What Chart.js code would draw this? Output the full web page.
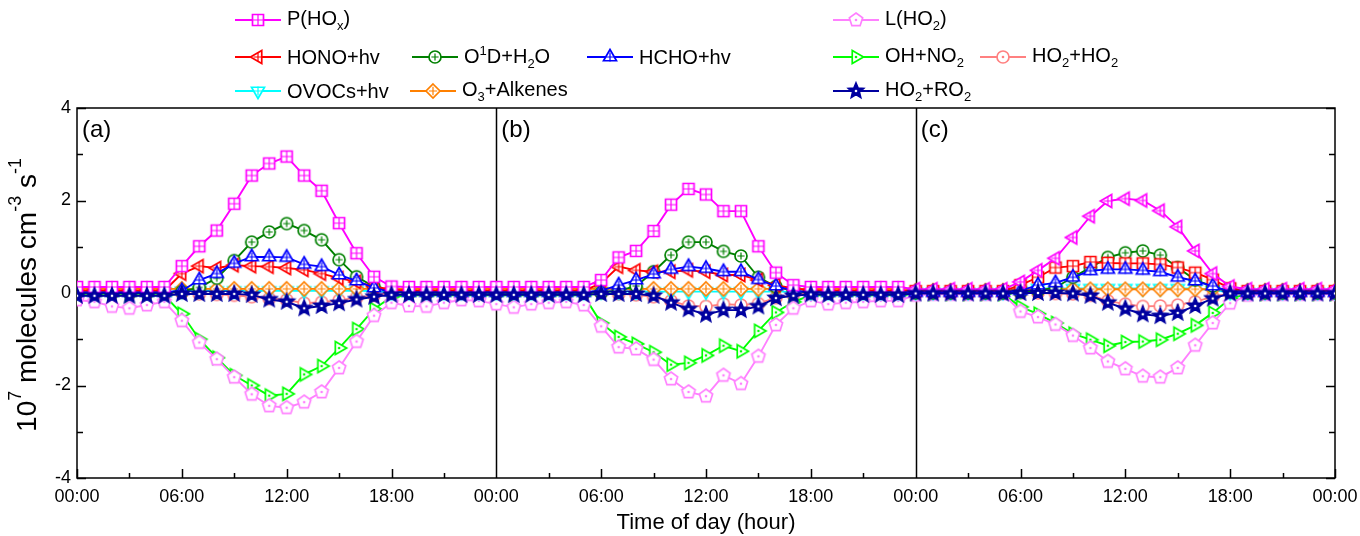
<!DOCTYPE html>
<html>
<head>
<meta charset="utf-8">
<title>HOx budget</title>
<script src="https://cdn.jsdelivr.net/npm/chart.js@4.4.1/dist/chart.umd.min.js"></script>
<style>
  html, body { margin: 0; padding: 0; background: #fff; }
  #wrap { position: relative; width: 1360px; height: 536px; overflow: hidden; }
  #chart { position: absolute; left: 0; top: 0; }
  .lg { position: absolute; display: flex; align-items: center; font: 20px Arial, "Liberation Sans", sans-serif; color: #000; line-height: 1; white-space: nowrap; }
  .lg canvas { margin-right: 6px; }
  .lg sub { font-size: 13px; vertical-align: -5px; }
  .lg sup { font-size: 13px; vertical-align: 8px; }
</style>
</head>
<body>
<div id="wrap">
  <canvas id="chart" width="1360" height="536"></canvas>
  <div id="legend"></div>
</div>
<script>
// hours across the three panels (a: 0-24, b: 24-48, c: 48-72)
const hours = [
  0,1,2,3,4,5,6,7,8,9,10,11,12,13,14,15,16,17,18,19,20,21,22,23,
  24,25,26,27,28,29,30,31,32,33,34,35,36,37,38,39,40,41,42,43,44,45,46,47,
  48,49,50,51,52,53,54,55,56,57,58,59,60,61,62,63,64,65,66,67,68,69,70,71,72
];
const tickLabels = ['00:00', '06:00', '12:00', '18:00'];
const panelNames = ['(a)', '(b)', '(c)'];
const panelStarts = [0, 24, 48];

// production terms (10^7 molecules cm-3 s-1)
const pHOx = [
  0.13,0.13,0.13,0.13,0.13,0.13,0.58,1.01,1.35,1.93,2.54,2.80,2.95,2.54,2.21,1.51,0.86,0.35,0.14,0.13,0.13,0.13,0.13,0.13,
  0.13,0.13,0.13,0.13,0.13,0.13,0.28,0.77,0.91,1.34,1.91,2.25,2.13,1.77,1.77,1.01,0.44,0.17,0.13,0.13,0.13,0.13,0.13,0.13,
  0.08,0.08,0.08,0.08,0.08,0.08,0.24,0.49,0.75,1.20,1.66,1.99,2.04,2.00,1.78,1.43,0.91,0.42,0.14,0.08,0.08,0.08,0.08,0.08,0.08
];
const honoHv = [
  0.05,0.05,0.05,0.05,0.05,0.05,0.42,0.58,0.54,0.60,0.58,0.57,0.54,0.50,0.42,0.32,0.24,0.14,0.07,0.05,0.05,0.05,0.05,0.05,
  0.05,0.05,0.05,0.05,0.05,0.05,0.21,0.57,0.49,0.46,0.46,0.49,0.46,0.39,0.39,0.28,0.17,0.10,0.06,0.05,0.05,0.05,0.05,0.05,
  0.04,0.04,0.04,0.04,0.04,0.04,0.17,0.34,0.55,0.58,0.67,0.65,0.64,0.64,0.62,0.55,0.44,0.29,0.10,0.04,0.04,0.04,0.04,0.04,0.04
];
const o1dH2O = [
  0.00,0.00,0.00,0.00,0.00,0.00,0.03,0.12,0.32,0.70,1.10,1.32,1.50,1.35,1.15,0.72,0.35,0.14,0.02,0.00,0.00,0.00,0.00,0.00,
  0.00,0.00,0.00,0.00,0.00,0.00,0.01,0.05,0.15,0.46,0.82,1.10,1.10,0.90,0.80,0.34,0.14,0.05,0.01,0.00,0.00,0.00,0.00,0.00,
  0.00,0.00,0.00,0.00,0.00,0.00,0.02,0.05,0.12,0.34,0.55,0.77,0.87,0.91,0.82,0.55,0.28,0.15,0.02,0.00,0.00,0.00,0.00,0.00,0.00
];
const hchoHv = [
  0.01,0.01,0.01,0.01,0.01,0.01,0.05,0.28,0.42,0.64,0.78,0.78,0.77,0.62,0.57,0.39,0.26,0.11,0.02,0.01,0.01,0.01,0.01,0.01,
  0.01,0.01,0.01,0.01,0.01,0.01,0.05,0.17,0.28,0.41,0.51,0.57,0.53,0.46,0.46,0.29,0.15,0.05,0.01,0.01,0.01,0.01,0.01,0.01,
  0.01,0.01,0.01,0.01,0.01,0.01,0.05,0.17,0.22,0.34,0.48,0.51,0.51,0.49,0.46,0.34,0.26,0.15,0.03,0.01,0.01,0.01,0.01,0.01,0.01
];
const ovocsHv = [
  0.02,0.02,0.02,0.02,0.02,0.02,0.04,0.05,0.05,0.05,0.05,0.05,0.05,0.05,0.05,0.05,0.05,0.04,0.02,0.02,0.02,0.02,0.02,0.02,
  0.02,0.02,0.02,0.02,0.02,0.02,0.03,0.03,0.03,0.03,0.03,0.03,0.03,0.03,0.03,0.03,0.03,0.03,0.02,0.02,0.02,0.02,0.02,0.02,
  0.02,0.02,0.02,0.02,0.02,0.02,0.05,0.10,0.10,0.10,0.10,0.10,0.10,0.10,0.10,0.10,0.10,0.06,0.02,0.02,0.02,0.02,0.02,0.02,0.02
];
const o3Alkenes = [
  0.09,0.09,0.09,0.09,0.09,0.09,0.09,0.09,0.09,0.09,0.09,0.09,0.09,0.09,0.09,0.09,0.09,0.09,0.09,0.09,0.09,0.09,0.09,0.09,
  0.09,0.09,0.09,0.09,0.09,0.09,0.09,0.09,0.09,0.09,0.09,0.09,0.09,0.09,0.09,0.09,0.09,0.09,0.09,0.09,0.09,0.09,0.09,0.09,
  0.05,0.05,0.05,0.05,0.05,0.05,0.08,0.08,0.08,0.08,0.08,0.08,0.08,0.08,0.08,0.08,0.08,0.08,0.08,0.05,0.05,0.05,0.05,0.05,0.05
];

// loss terms
const lHO2 = [
  -0.15,-0.19,-0.29,-0.33,-0.26,-0.19,-0.60,-1.07,-1.43,-1.82,-2.19,-2.44,-2.48,-2.36,-2.14,-1.62,-1.05,-0.49,-0.21,-0.28,-0.29,-0.21,-0.15,-0.17,
  -0.24,-0.31,-0.24,-0.21,-0.19,-0.26,-0.72,-1.17,-1.21,-1.44,-1.86,-2.14,-2.23,-1.78,-1.96,-1.37,-0.69,-0.33,-0.17,-0.24,-0.21,-0.19,-0.17,-0.17,
  -0.05,-0.03,-0.03,-0.03,-0.03,-0.02,-0.40,-0.52,-0.68,-0.92,-1.19,-1.48,-1.64,-1.80,-1.82,-1.62,-1.13,-0.65,-0.22,-0.05,-0.03,-0.03,-0.03,-0.03,-0.03
];
const ohNO2 = [
  -0.05,-0.05,-0.05,-0.05,-0.05,-0.05,-0.45,-1.00,-1.40,-1.78,-2.00,-2.22,-2.18,-1.76,-1.58,-1.19,-0.78,-0.35,-0.08,-0.05,-0.05,-0.05,-0.05,-0.05,
  -0.05,-0.05,-0.05,-0.05,-0.05,-0.05,-0.65,-0.95,-1.10,-1.28,-1.55,-1.51,-1.35,-1.14,-1.26,-0.82,-0.42,-0.19,-0.05,-0.05,-0.05,-0.05,-0.05,-0.05,
  -0.02,-0.02,-0.02,-0.02,-0.02,-0.02,-0.30,-0.45,-0.65,-0.88,-1.01,-1.14,-1.06,-1.05,-1.01,-0.88,-0.70,-0.43,-0.12,-0.02,-0.02,-0.02,-0.02,-0.02,-0.02
];
const ho2HO2 = [
  0.02,0.02,0.02,0.02,0.02,0.02,0.00,-0.02,-0.03,-0.05,-0.08,-0.12,-0.15,-0.22,-0.20,-0.16,-0.10,-0.05,0.00,0.02,0.02,0.02,0.02,0.02,
  0.02,0.02,0.02,0.02,0.02,0.02,0.00,-0.02,-0.04,-0.08,-0.17,-0.28,-0.29,-0.24,-0.26,-0.23,-0.10,-0.04,0.00,0.02,0.02,0.02,0.02,0.02,
  0.00,0.00,0.00,0.00,0.00,0.00,0.00,0.00,-0.01,-0.02,-0.05,-0.17,-0.24,-0.29,-0.28,-0.26,-0.19,-0.08,-0.01,0.00,0.00,0.00,0.00,0.00,0.00
];
const ho2RO2 = [
  -0.06,-0.06,-0.06,-0.06,-0.06,-0.06,-0.02,-0.02,-0.02,-0.02,-0.04,-0.14,-0.19,-0.33,-0.28,-0.22,-0.14,-0.08,-0.04,-0.04,-0.04,-0.04,-0.04,-0.04,
  -0.04,-0.04,-0.04,-0.04,-0.04,-0.04,-0.02,-0.02,-0.02,-0.06,-0.21,-0.35,-0.47,-0.37,-0.37,-0.29,-0.11,-0.06,-0.03,-0.04,-0.04,-0.04,-0.04,-0.04,
  -0.01,-0.01,-0.01,-0.01,-0.01,-0.01,0.00,0.00,0.00,-0.01,-0.06,-0.21,-0.34,-0.46,-0.50,-0.43,-0.28,-0.12,-0.01,-0.01,-0.01,-0.01,-0.01,-0.01,-0.01
];

// draw a marker into a small canvas (used as pointStyle and in the legend)
function shapePath(ctx, shape, c, r) {
    ctx.beginPath();
    if (shape === 'square') {
        ctx.rect(c - r, c - r, 2 * r, 2 * r);
    } else if (shape === 'circle') {
        ctx.arc(c, c, r, 0, Math.PI * 2);
    } else if (shape === 'diamond') {
        ctx.moveTo(c, c - r); ctx.lineTo(c + r, c); ctx.lineTo(c, c + r); ctx.lineTo(c - r, c); ctx.closePath();
    } else if (shape === 'star') {
        for (let i = 0; i < 10; i++) {
            const rr = i % 2 === 0 ? r : r * 0.45;
            const a = -Math.PI / 2 + i * Math.PI / 5;
            ctx.lineTo(c + rr * Math.cos(a), c + rr * Math.sin(a));
        }
        ctx.closePath();
    } else {
        // regular polygons, rotated by the given start angle
        const spec = {
            triUp: [3, -Math.PI / 2], triDown: [3, Math.PI / 2],
            triLeft: [3, Math.PI], triRight: [3, 0], pentagon: [5, -Math.PI / 2]
        }[shape];
        for (let i = 0; i < spec[0]; i++) {
            const a = spec[1] + i * 2 * Math.PI / spec[0];
            ctx.lineTo(c + r * Math.cos(a), c + r * Math.sin(a));
        }
        ctx.closePath();
    }
}

function makeMarker(shape, color, inner, r) {
    const size = 20;
    const cv = document.createElement('canvas');
    cv.width = size; cv.height = size;
    const ctx = cv.getContext('2d');
    const c = size / 2;
    ctx.lineWidth = 1.7;
    ctx.strokeStyle = color;
    shapePath(ctx, shape, c, r);
    ctx.fillStyle = shape === 'star' ? color : '#fff';
    ctx.fill();
    ctx.stroke();
    if (inner === 'plus') {
        const k = shape === 'square' ? r : r * 0.6;
        ctx.lineWidth = 1.2;
        ctx.beginPath();
        ctx.moveTo(c - k, c); ctx.lineTo(c + k, c);
        ctx.moveTo(c, c - k); ctx.lineTo(c, c + k);
        ctx.stroke();
    } else if (inner === 'dot') {
        ctx.fillStyle = shape === 'star' ? '#fff' : color;
        ctx.beginPath();
        ctx.arc(c, c, 1.3, 0, Math.PI * 2);
        ctx.fill();
    }
    return cv;
}

const mk = {
    pHOx: makeMarker('square', '#FF00FF', 'plus', 5.5),
    pHOxC: makeMarker('triLeft', '#FF00FF', 'plus', 7.5),
    hono: makeMarker('triLeft', '#FF0000', 'plus', 7.5),
    honoC: makeMarker('square', '#FF0000', 'plus', 5.5),
    o1d: makeMarker('circle', '#008000', 'plus', 6),
    hcho: makeMarker('triUp', '#0000FF', 'plus', 7.5),
    ovocs: makeMarker('triDown', '#00FFFF', 'plus', 7.5),
    o3: makeMarker('diamond', '#FF8000', 'plus', 7),
    lho2: makeMarker('pentagon', '#FF80FF', 'dot', 7),
    ohno2: makeMarker('triRight', '#00FF00', 'dot', 7.5),
    ho2ho2: makeMarker('circle', '#FF8080', 'dot', 6),
    ho2ro2: makeMarker('star', '#0000A0', 'dot', 8)
};

const toXY = arr => arr.map((v, i) => ({ x: hours[i], y: v }));
const panelStyle = (normal, panelC) => ctx => (ctx.dataIndex >= 48 ? panelC : normal);

function series(label, values, color, marker, order) {
    return {
        label: label,
        data: toXY(values),
        borderColor: color,
        backgroundColor: color,
        borderWidth: 1.9,
        pointStyle: marker,
        pointRadius: 6,
        tension: 0,
        order: order
    };
}

const datasets = [
    series('P(HOx)', pHOx, '#FF00FF', panelStyle(mk.pHOx, mk.pHOxC), 1),
    series('HONO+hv', honoHv, '#FF0000', panelStyle(mk.hono, mk.honoC), 3),
    series('O1D+H2O', o1dH2O, '#008000', mk.o1d, 4),
    series('HCHO+hv', hchoHv, '#0000FF', mk.hcho, 2),
    series('OVOCs+hv', ovocsHv, '#00FFFF', mk.ovocs, 6),
    series('O3+Alkenes', o3Alkenes, '#FF8000', mk.o3, 5),
    series('L(HO2)', lHO2, '#FF80FF', mk.lho2, 7),
    series('OH+NO2', ohNO2, '#00FF00', mk.ohno2, 8),
    series('HO2+HO2', ho2HO2, '#FF8080', mk.ho2ho2, 9),
    series('HO2+RO2', ho2RO2, '#0000A0', mk.ho2ro2, 0)
];

// frame, inward ticks, panel dividers, panel labels and y title
const framePlugin = {
    id: 'frame',
    beforeDatasetsDraw(chart) {
        const { ctx, chartArea: a, scales: { x, y } } = chart;
        ctx.save();
        ctx.strokeStyle = '#000';
        ctx.lineWidth = 1.5;
        ctx.strokeRect(a.left, a.top, a.right - a.left, a.bottom - a.top);
        ctx.beginPath();
        [24, 48].forEach(h => {
            const px = Math.round(x.getPixelForValue(h)) + 0.5;
            ctx.moveTo(px, a.top); ctx.lineTo(px, a.bottom);
        });
        x.ticks.forEach(t => {
            const px = Math.round(x.getPixelForValue(t.value)) + 0.5;
            const len = t.value % 6 === 0 ? 9 : 5;
            ctx.moveTo(px, a.bottom); ctx.lineTo(px, a.bottom - len);
        });
        y.ticks.forEach(t => {
            const py = Math.round(y.getPixelForValue(t.value)) + 0.5;
            const len = t.value % 2 === 0 ? 9 : 6;
            ctx.moveTo(a.left, py); ctx.lineTo(a.left + len, py);
            ctx.moveTo(a.right, py); ctx.lineTo(a.right - len, py);
        });
        ctx.stroke();

        ctx.fillStyle = '#000';
        ctx.font = '24px Arial, "Liberation Sans", sans-serif';
        ctx.textBaseline = 'top';
        ctx.textAlign = 'left';
        panelNames.forEach((name, i) => {
            ctx.fillText(name, x.getPixelForValue(panelStarts[i]) + 5, a.top + 10);
        });
        ctx.restore();
    },
    afterDraw(chart) {
        const { ctx } = chart;
        const big = '28px Arial, "Liberation Sans", sans-serif';
        const small = '18px Arial, "Liberation Sans", sans-serif';
        const parts = [
            ['10', big, 0], ['7', small, -12], [' molecules cm', big, 0],
            ['-3', small, -12], [' s', big, 0], ['-1', small, -12]
        ];
        ctx.save();
        let total = 0;
        parts.forEach(p => { ctx.font = p[1]; total += ctx.measureText(p[0]).width; });
        ctx.translate(28, 295);
        ctx.rotate(-Math.PI / 2);
        ctx.fillStyle = '#000';
        ctx.textBaseline = 'middle';
        let pos = -total / 2;
        parts.forEach(p => {
            ctx.font = p[1];
            ctx.fillText(p[0], pos, p[2]);
            pos += ctx.measureText(p[0]).width;
        });
        ctx.restore();
    }
};

new Chart(document.getElementById('chart').getContext('2d'), {
    type: 'line',
    data: { datasets: datasets },
    options: {
        responsive: false,
        animation: false,
        devicePixelRatio: 1,
        layout: { padding: { top: 108, right: 25, left: 0, bottom: 0 } },
        plugins: { legend: { display: false }, tooltip: { enabled: false } },
        scales: {
            x: {
                type: 'linear', min: 0, max: 72,
                afterFit: s => { s.height = 58; s.paddingLeft = 0; s.paddingRight = 0; },
                grid: { display: false, drawTicks: false },
                border: { display: false },
                ticks: {
                    stepSize: 3, autoSkip: false, maxRotation: 0, padding: 8,
                    color: '#000',
                    font: { family: 'Arial, "Liberation Sans", sans-serif', size: 18 },
                    callback: v => (v % 6 === 0 ? tickLabels[(v % 24) / 6] : '')
                },
                title: {
                    display: true, text: 'Time of day (hour)', color: '#000',
                    font: { family: 'Arial, "Liberation Sans", sans-serif', size: 22 },
                    padding: { top: 0, bottom: 0 }
                }
            },
            y: {
                min: -4, max: 4,
                afterFit: s => { s.width = 77; },
                grid: { display: false, drawTicks: false },
                border: { display: false },
                ticks: {
                    stepSize: 1, padding: 6, color: '#000',
                    font: { family: 'Arial, "Liberation Sans", sans-serif', size: 18 },
                    callback: v => (v % 2 === 0 ? String(v) : '')
                }
            }
        }
    },
    plugins: [framePlugin]
});

// legend with sub/superscripts
const legendItems = [
    { html: 'P(HO<sub>x</sub>)', m: mk.pHOx, c: '#FF00FF', x: 235, y: 20 },
    { html: 'HONO+hv', m: mk.hono, c: '#FF0000', x: 235, y: 57 },
    { html: 'O<sup>1</sup>D+H<sub>2</sub>O', m: mk.o1d, c: '#008000', x: 412, y: 57 },
    { html: 'HCHO+hv', m: mk.hcho, c: '#0000FF', x: 587, y: 57 },
    { html: 'OVOCs+hv', m: mk.ovocs, c: '#00FFFF', x: 235, y: 91 },
    { html: 'O<sub>3</sub>+Alkenes', m: mk.o3, c: '#FF8000', x: 410, y: 91 },
    { html: 'L(HO<sub>2</sub>)', m: mk.lho2, c: '#FF80FF', x: 833, y: 20 },
    { html: 'OH+NO<sub>2</sub>', m: mk.ohno2, c: '#00FF00', x: 833, y: 57 },
    { html: 'HO<sub>2</sub>+HO<sub>2</sub>', m: mk.ho2ho2, c: '#FF8080', x: 980, y: 57 },
    { html: 'HO<sub>2</sub>+RO<sub>2</sub>', m: mk.ho2ro2, c: '#0000A0', x: 833, y: 91 }
];
const legendBox = document.getElementById('legend');
legendItems.forEach(item => {
    const div = document.createElement('div');
    div.className = 'lg';
    div.style.left = item.x + 'px';
    div.style.top = (item.y - 10) + 'px';
    div.style.height = '20px';
    const cv = document.createElement('canvas');
    cv.width = 46; cv.height = 20;
    const g = cv.getContext('2d');
    g.strokeStyle = item.c; g.lineWidth = 1.8;
    g.beginPath(); g.moveTo(0, 10); g.lineTo(46, 10); g.stroke();
    g.drawImage(item.m, 23 - item.m.width / 2, 10 - item.m.height / 2);
    div.appendChild(cv);
    const span = document.createElement('span');
    span.innerHTML = item.html;
    div.appendChild(span);
    legendBox.appendChild(div);
});
</script>
</body>
</html>
